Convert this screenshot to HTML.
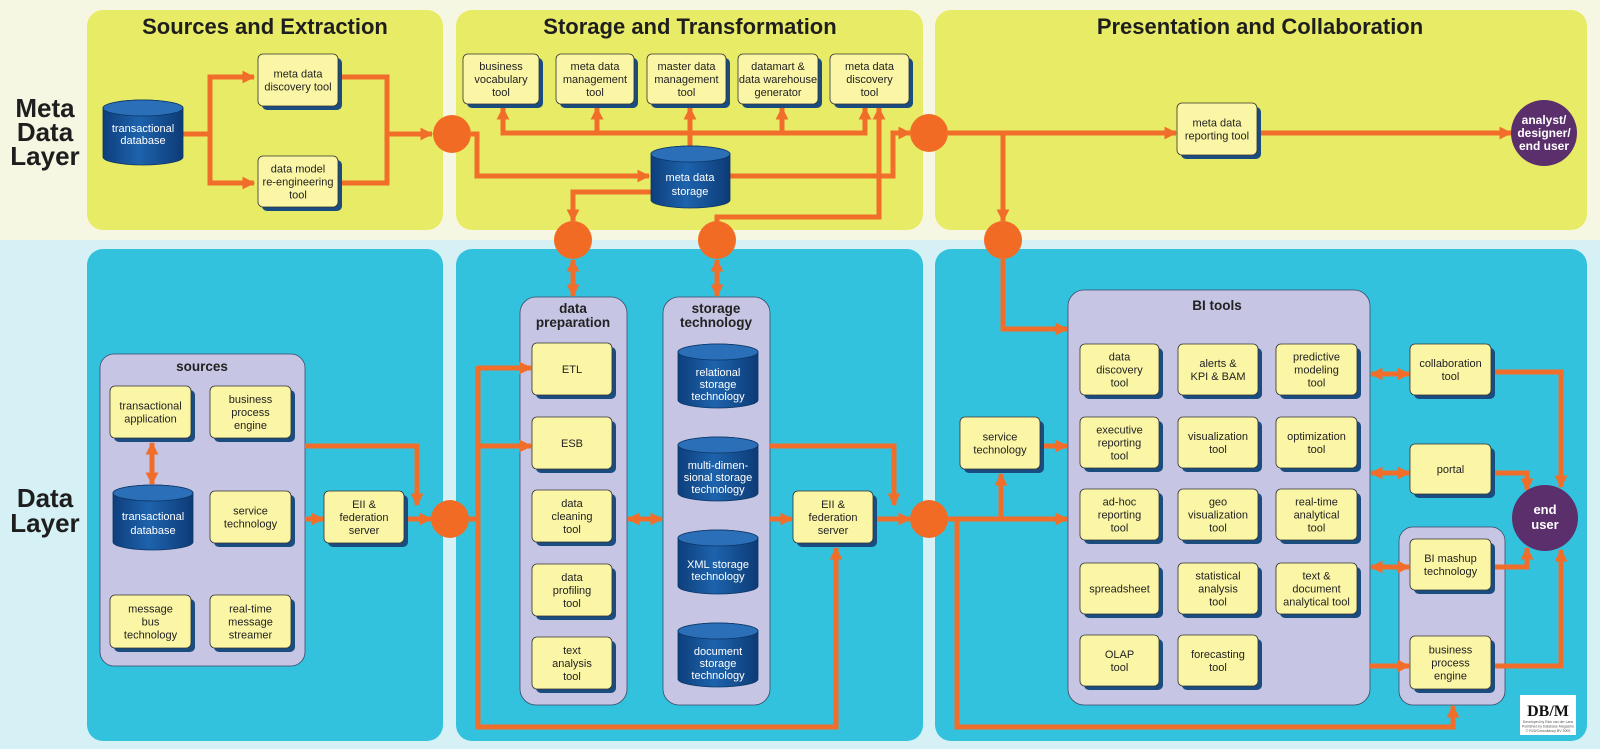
<!DOCTYPE html>
<html><head><meta charset="utf-8"><style>
html,body{margin:0;padding:0;width:1600px;height:749px;overflow:hidden;background:#d5f1f5}
svg{display:block}
text{font-family:"Liberation Sans",sans-serif;fill:#222}
.t{font-size:11px;text-anchor:middle}
.w{font-size:11px;text-anchor:middle;fill:#fff}
.h{font-size:22px;font-weight:bold;text-anchor:middle;fill:#1e1e1e}
.l{font-size:26px;font-weight:bold;text-anchor:middle;fill:#1e1e1e}
.p{font-size:13.5px;font-weight:bold;text-anchor:middle}
.o{fill:none;stroke:#f06e2a;stroke-width:5}
.b{fill:#fbf6a6;stroke:#333;stroke-width:.8}
.s{fill:#1b4c80}
</style></head><body>
<svg width="1600" height="749" viewBox="0 0 1600 749" xmlns="http://www.w3.org/2000/svg">
<defs>
<marker id="a" viewBox="0 0 10 10" refX="9" refY="5" markerWidth="13" markerHeight="13" markerUnits="userSpaceOnUse" orient="auto-start-reverse"><path d="M0,0 L10,5 L0,10z" fill="#f06e2a"/></marker>
<linearGradient id="g" x1="0" x2="1" y1="0" y2="0"><stop offset="0" stop-color="#0e3f7c"/><stop offset=".45" stop-color="#1d63ad"/><stop offset="1" stop-color="#0d3b76"/></linearGradient>
</defs>
<rect x="0" y="0" width="1600" height="240" fill="#f6f7e2"/>
<rect x="0" y="240" width="1600" height="509" fill="#d5f1f5"/>
<rect x="87" y="10" width="356" height="220" rx="16" fill="#e8eb66"/>
<rect x="456" y="10" width="467" height="220" rx="16" fill="#e8eb66"/>
<rect x="935" y="10" width="652" height="220" rx="16" fill="#e8eb66"/>
<rect x="87" y="249" width="356" height="492" rx="16" fill="#33c2dd"/>
<rect x="456" y="249" width="467" height="492" rx="16" fill="#33c2dd"/>
<rect x="935" y="249" width="652" height="492" rx="16" fill="#33c2dd"/>
<text class="h" x="265" y="34">Sources and Extraction</text>
<text class="h" x="690" y="34">Storage and Transformation</text>
<text class="h" x="1260" y="34">Presentation and Collaboration</text>
<text class="l" x="45" y="117">Meta</text><text class="l" x="45" y="141">Data</text><text class="l" x="45" y="165">Layer</text>
<text class="l" x="45" y="507">Data</text><text class="l" x="45" y="532">Layer</text>

<rect x="100" y="354" width="205" height="312" rx="14" fill="#c6c5e4" stroke="#3a4a6a" stroke-width=".8"/>
<text class="p" x="202" y="371">sources</text>
<rect x="520" y="297" width="107" height="408" rx="16" fill="#c6c5e4" stroke="#3a4a6a" stroke-width=".8"/>
<text class="p" x="573" y="313">data</text><text class="p" x="573" y="327">preparation</text>
<rect x="663" y="297" width="107" height="408" rx="16" fill="#c6c5e4" stroke="#3a4a6a" stroke-width=".8"/>
<text class="p" x="716" y="313">storage</text><text class="p" x="716" y="327">technology</text>
<rect x="1068" y="290" width="302" height="415" rx="16" fill="#c6c5e4" stroke="#3a4a6a" stroke-width=".8"/>
<text class="p" x="1217" y="310">BI tools</text>
<rect x="1399" y="527" width="106" height="178" rx="14" fill="#c6c5e4" stroke="#3a4a6a" stroke-width=".8"/>

<g class="o">
<path d="M183,134 H210"/>
<path d="M254,77 H210 V183 H254" marker-start="url(#a)" marker-end="url(#a)"/>
<path d="M338,77 H387 V183 H338"/>
<path d="M387,134 H432" marker-end="url(#a)"/>
<path d="M471,134 H477 V176 H649" marker-end="url(#a)"/>
<path d="M503,108 V133 H865 V108" marker-start="url(#a)" marker-end="url(#a)"/>
<path d="M597,133 V108" marker-end="url(#a)"/>
<path d="M690,146 V108" marker-end="url(#a)"/>
<path d="M782,133 V108" marker-end="url(#a)"/>
<path d="M730,176 H893 V133 H910" marker-end="url(#a)"/>
<path d="M651,192 H573 V221" marker-end="url(#a)"/>
<path d="M879,108 V217 H717 V225" marker-start="url(#a)"/>
<path d="M573,260 V296" marker-start="url(#a)" marker-end="url(#a)"/>
<path d="M717,260 V296" marker-start="url(#a)" marker-end="url(#a)"/>
<path d="M948,133 H1176" marker-end="url(#a)"/>
<path d="M1258,133 H1511" marker-end="url(#a)"/>
<path d="M1003,133 V221" marker-end="url(#a)"/>
<path d="M1003,259 V329 H1067" marker-end="url(#a)"/>

<path d="M152,443 V484" marker-start="url(#a)" marker-end="url(#a)"/>
<path d="M305,446 H417 V505" marker-end="url(#a)"/>
<path d="M305,519 H323" marker-end="url(#a)"/>
<path d="M404,519 H431" marker-end="url(#a)"/>
<path d="M469,519 H478"/>
<path d="M478,366 V727 H836 V548" marker-end="url(#a)"/>
<path d="M478,368 H531" marker-end="url(#a)"/>
<path d="M478,446 H531" marker-end="url(#a)"/>
<path d="M628,519 H662" marker-start="url(#a)" marker-end="url(#a)"/>
<path d="M770,446 H894 V505" marker-end="url(#a)"/>
<path d="M770,519 H792" marker-end="url(#a)"/>
<path d="M873,519 H910" marker-end="url(#a)"/>
<path d="M948,519 H1067" marker-end="url(#a)"/>
<path d="M1001,519 V474" marker-end="url(#a)"/>
<path d="M1040,446 H1067" marker-end="url(#a)"/>
<path d="M957,519 V727 H1453 V706" marker-end="url(#a)"/>
<path d="M1371,374 H1409" marker-start="url(#a)" marker-end="url(#a)"/>
<path d="M1371,473 H1409" marker-start="url(#a)" marker-end="url(#a)"/>
<path d="M1371,567 H1409" marker-start="url(#a)" marker-end="url(#a)"/>
<path d="M1370,666 H1409" marker-end="url(#a)"/>
<path d="M1491,372 H1561 V487" marker-end="url(#a)"/>
<path d="M1491,473 H1527 V490" marker-end="url(#a)"/>
<path d="M1491,567 H1527 V548" marker-end="url(#a)"/>
<path d="M1491,666 H1561 V550" marker-end="url(#a)"/>
</g>
<g fill="#f26b24">
<circle cx="452" cy="134" r="19"/><circle cx="573" cy="240" r="19"/><circle cx="717" cy="240" r="19"/>
<circle cx="929" cy="133" r="19"/><circle cx="1003" cy="240" r="19"/>
<circle cx="450" cy="519" r="19"/><circle cx="929" cy="519" r="19"/>
</g>
<circle cx="1544" cy="133" r="33" fill="#5b2f6b"/>
<text style="font-size:12px;font-weight:bold;text-anchor:middle;fill:#fff" x="1544" y="124">analyst/<tspan x="1544" dy="13">designer/</tspan><tspan x="1544" dy="13">end user</tspan></text>
<circle cx="1545" cy="518" r="33" fill="#5b2f6b"/>
<text style="font-size:13px;font-weight:bold;text-anchor:middle;fill:#fff" x="1545" y="514">end<tspan x="1545" dy="15">user</tspan></text>

<g stroke="#0b3566" stroke-width=".8">
<path d="M103,108 A40,8 0 0 1 183,108 V157 A40,8 0 0 1 103,157Z" fill="url(#g)"/><ellipse cx="143" cy="108" rx="40" ry="8" fill="#2a6fb7"/>
<path d="M651,154 A39.5,8 0 0 1 730,154 V200 A39.5,8 0 0 1 651,200Z" fill="url(#g)"/><ellipse cx="690.5" cy="154" rx="39.5" ry="8" fill="#2a6fb7"/>
<path d="M113,493 A40,8 0 0 1 193,493 V542 A40,8 0 0 1 113,542Z" fill="url(#g)"/><ellipse cx="153" cy="493" rx="40" ry="8" fill="#2a6fb7"/>
<path d="M678,352 A40,8 0 0 1 758,352 V400 A40,8 0 0 1 678,400Z" fill="url(#g)"/><ellipse cx="718" cy="352" rx="40" ry="8" fill="#2a6fb7"/>
<path d="M678,445 A40,8 0 0 1 758,445 V493 A40,8 0 0 1 678,493Z" fill="url(#g)"/><ellipse cx="718" cy="445" rx="40" ry="8" fill="#2a6fb7"/>
<path d="M678,538 A40,8 0 0 1 758,538 V586 A40,8 0 0 1 678,586Z" fill="url(#g)"/><ellipse cx="718" cy="538" rx="40" ry="8" fill="#2a6fb7"/>
<path d="M678,631 A40,8 0 0 1 758,631 V679 A40,8 0 0 1 678,679Z" fill="url(#g)"/><ellipse cx="718" cy="631" rx="40" ry="8" fill="#2a6fb7"/>
</g>
<text class="w" x="143" y="132">transactional<tspan x="143" dy="12">database</tspan></text>
<text class="w" x="690" y="181">meta data<tspan x="690" dy="14">storage</tspan></text>
<text class="w" x="153" y="520">transactional<tspan x="153" dy="14">database</tspan></text>
<text class="w" x="718" y="376">relational<tspan x="718" dy="12">storage</tspan><tspan x="718" dy="12">technology</tspan></text>
<text class="w" x="718" y="469">multi-dimen-<tspan x="718" dy="12">sional storage</tspan><tspan x="718" dy="12">technology</tspan></text>
<text class="w" x="718" y="568">XML storage<tspan x="718" dy="12">technology</tspan></text>
<text class="w" x="718" y="655">document<tspan x="718" dy="12">storage</tspan><tspan x="718" dy="12">technology</tspan></text>

<g>
<rect class="s" x="262" y="58" width="80" height="52" rx="5"/><rect class="b" x="258" y="54" width="80" height="52" rx="5"/>
<rect class="s" x="262" y="160" width="80" height="51" rx="5"/><rect class="b" x="258" y="156" width="80" height="51" rx="5"/>
<rect class="s" x="467" y="58" width="76" height="50" rx="5"/><rect class="b" x="463" y="54" width="76" height="50" rx="5"/>
<rect class="s" x="560" y="58" width="78" height="50" rx="5"/><rect class="b" x="556" y="54" width="78" height="50" rx="5"/>
<rect class="s" x="651" y="58" width="79" height="50" rx="5"/><rect class="b" x="647" y="54" width="79" height="50" rx="5"/>
<rect class="s" x="742" y="58" width="80" height="50" rx="5"/><rect class="b" x="738" y="54" width="80" height="50" rx="5"/>
<rect class="s" x="834" y="58" width="79" height="50" rx="5"/><rect class="b" x="830" y="54" width="79" height="50" rx="5"/>
<rect class="s" x="1181" y="107" width="80" height="52" rx="5"/><rect class="b" x="1177" y="103" width="80" height="52" rx="5"/>

<rect class="s" x="114" y="390" width="81" height="52" rx="5"/><rect class="b" x="110" y="386" width="81" height="52" rx="5"/>
<rect class="s" x="214" y="390" width="81" height="52" rx="5"/><rect class="b" x="210" y="386" width="81" height="52" rx="5"/>
<rect class="s" x="214" y="495" width="81" height="52" rx="5"/><rect class="b" x="210" y="491" width="81" height="52" rx="5"/>
<rect class="s" x="114" y="599" width="81" height="53" rx="5"/><rect class="b" x="110" y="595" width="81" height="53" rx="5"/>
<rect class="s" x="214" y="599" width="81" height="53" rx="5"/><rect class="b" x="210" y="595" width="81" height="53" rx="5"/>
<rect class="s" x="328" y="495" width="80" height="52" rx="5"/><rect class="b" x="324" y="491" width="80" height="52" rx="5"/>

<rect class="s" x="536" y="347" width="80" height="52" rx="5"/><rect class="b" x="532" y="343" width="80" height="52" rx="5"/>
<rect class="s" x="536" y="421" width="80" height="52" rx="5"/><rect class="b" x="532" y="417" width="80" height="52" rx="5"/>
<rect class="s" x="536" y="494" width="80" height="52" rx="5"/><rect class="b" x="532" y="490" width="80" height="52" rx="5"/>
<rect class="s" x="536" y="568" width="80" height="52" rx="5"/><rect class="b" x="532" y="564" width="80" height="52" rx="5"/>
<rect class="s" x="536" y="641" width="80" height="52" rx="5"/><rect class="b" x="532" y="637" width="80" height="52" rx="5"/>
<rect class="s" x="797" y="495" width="80" height="52" rx="5"/><rect class="b" x="793" y="491" width="80" height="52" rx="5"/>

<rect class="s" x="964" y="421" width="80" height="52" rx="5"/><rect class="b" x="960" y="417" width="80" height="52" rx="5"/>

<rect class="s" x="1084" y="348" width="79" height="51" rx="5"/><rect class="b" x="1080" y="344" width="79" height="51" rx="5"/>
<rect class="s" x="1182" y="348" width="80" height="51" rx="5"/><rect class="b" x="1178" y="344" width="80" height="51" rx="5"/>
<rect class="s" x="1280" y="348" width="81" height="51" rx="5"/><rect class="b" x="1276" y="344" width="81" height="51" rx="5"/>
<rect class="s" x="1084" y="421" width="79" height="51" rx="5"/><rect class="b" x="1080" y="417" width="79" height="51" rx="5"/>
<rect class="s" x="1182" y="421" width="80" height="51" rx="5"/><rect class="b" x="1178" y="417" width="80" height="51" rx="5"/>
<rect class="s" x="1280" y="421" width="81" height="51" rx="5"/><rect class="b" x="1276" y="417" width="81" height="51" rx="5"/>
<rect class="s" x="1084" y="493" width="79" height="51" rx="5"/><rect class="b" x="1080" y="489" width="79" height="51" rx="5"/>
<rect class="s" x="1182" y="493" width="80" height="51" rx="5"/><rect class="b" x="1178" y="489" width="80" height="51" rx="5"/>
<rect class="s" x="1280" y="493" width="81" height="51" rx="5"/><rect class="b" x="1276" y="489" width="81" height="51" rx="5"/>
<rect class="s" x="1084" y="567" width="79" height="51" rx="5"/><rect class="b" x="1080" y="563" width="79" height="51" rx="5"/>
<rect class="s" x="1182" y="567" width="80" height="51" rx="5"/><rect class="b" x="1178" y="563" width="80" height="51" rx="5"/>
<rect class="s" x="1280" y="567" width="81" height="51" rx="5"/><rect class="b" x="1276" y="563" width="81" height="51" rx="5"/>
<rect class="s" x="1084" y="639" width="79" height="51" rx="5"/><rect class="b" x="1080" y="635" width="79" height="51" rx="5"/>
<rect class="s" x="1182" y="639" width="80" height="51" rx="5"/><rect class="b" x="1178" y="635" width="80" height="51" rx="5"/>

<rect class="s" x="1414" y="348" width="81" height="51" rx="5"/><rect class="b" x="1410" y="344" width="81" height="51" rx="5"/>
<rect class="s" x="1414" y="448" width="81" height="50" rx="5"/><rect class="b" x="1410" y="444" width="81" height="50" rx="5"/>
<rect class="s" x="1414" y="543" width="81" height="51" rx="5"/><rect class="b" x="1410" y="539" width="81" height="51" rx="5"/>
<rect class="s" x="1414" y="640" width="81" height="53" rx="5"/><rect class="b" x="1410" y="636" width="81" height="53" rx="5"/>
</g>

<text class="t" x="298" y="77.5">meta data<tspan x="298" dy="13">discovery tool</tspan></text>
<text class="t" x="298" y="172.5">data model<tspan x="298" dy="13">re-engineering</tspan><tspan x="298" dy="13">tool</tspan></text>
<text class="t" x="501" y="70">business<tspan x="501" dy="13">vocabulary</tspan><tspan x="501" dy="13">tool</tspan></text>
<text class="t" x="595" y="70">meta data<tspan x="595" dy="13">management</tspan><tspan x="595" dy="13">tool</tspan></text>
<text class="t" x="686.5" y="70">master data<tspan x="686.5" dy="13">management</tspan><tspan x="686.5" dy="13">tool</tspan></text>
<text class="t" x="778" y="70">datamart &amp;<tspan x="778" dy="13">data warehouse</tspan><tspan x="778" dy="13">generator</tspan></text>
<text class="t" x="869.5" y="70">meta data<tspan x="869.5" dy="13">discovery</tspan><tspan x="869.5" dy="13">tool</tspan></text>
<text class="t" x="1217" y="126.5">meta data<tspan x="1217" dy="13">reporting tool</tspan></text>

<text class="t" x="150.5" y="409.5">transactional<tspan x="150.5" dy="13">application</tspan></text>
<text class="t" x="250.5" y="403">business<tspan x="250.5" dy="13">process</tspan><tspan x="250.5" dy="13">engine</tspan></text>
<text class="t" x="250.5" y="514.5">service<tspan x="250.5" dy="13">technology</tspan></text>
<text class="t" x="150.5" y="612.5">message<tspan x="150.5" dy="13">bus</tspan><tspan x="150.5" dy="13">technology</tspan></text>
<text class="t" x="250.5" y="612.5">real-time<tspan x="250.5" dy="13">message</tspan><tspan x="250.5" dy="13">streamer</tspan></text>
<text class="t" x="364" y="508">EII &amp;<tspan x="364" dy="13">federation</tspan><tspan x="364" dy="13">server</tspan></text>

<text class="t" x="572" y="373">ETL</text>
<text class="t" x="572" y="447">ESB</text>
<text class="t" x="572" y="507">data<tspan x="572" dy="13">cleaning</tspan><tspan x="572" dy="13">tool</tspan></text>
<text class="t" x="572" y="581">data<tspan x="572" dy="13">profiling</tspan><tspan x="572" dy="13">tool</tspan></text>
<text class="t" x="572" y="654">text<tspan x="572" dy="13">analysis</tspan><tspan x="572" dy="13">tool</tspan></text>
<text class="t" x="833" y="508">EII &amp;<tspan x="833" dy="13">federation</tspan><tspan x="833" dy="13">server</tspan></text>

<text class="t" x="1000" y="440.5">service<tspan x="1000" dy="13">technology</tspan></text>

<text class="t" x="1119.5" y="360.5">data<tspan x="1119.5" dy="13">discovery</tspan><tspan x="1119.5" dy="13">tool</tspan></text>
<text class="t" x="1218" y="367">alerts &amp;<tspan x="1218" dy="13">KPI &amp; BAM</tspan></text>
<text class="t" x="1316.5" y="360.5">predictive<tspan x="1316.5" dy="13">modeling</tspan><tspan x="1316.5" dy="13">tool</tspan></text>
<text class="t" x="1119.5" y="433.5">executive<tspan x="1119.5" dy="13">reporting</tspan><tspan x="1119.5" dy="13">tool</tspan></text>
<text class="t" x="1218" y="440">visualization<tspan x="1218" dy="13">tool</tspan></text>
<text class="t" x="1316.5" y="440">optimization<tspan x="1316.5" dy="13">tool</tspan></text>
<text class="t" x="1119.5" y="505.5">ad-hoc<tspan x="1119.5" dy="13">reporting</tspan><tspan x="1119.5" dy="13">tool</tspan></text>
<text class="t" x="1218" y="505.5">geo<tspan x="1218" dy="13">visualization</tspan><tspan x="1218" dy="13">tool</tspan></text>
<text class="t" x="1316.5" y="505.5">real-time<tspan x="1316.5" dy="13">analytical</tspan><tspan x="1316.5" dy="13">tool</tspan></text>
<text class="t" x="1119.5" y="592.5">spreadsheet</text>
<text class="t" x="1218" y="579.5">statistical<tspan x="1218" dy="13">analysis</tspan><tspan x="1218" dy="13">tool</tspan></text>
<text class="t" x="1316.5" y="579.5">text &amp;<tspan x="1316.5" dy="13">document</tspan><tspan x="1316.5" dy="13">analytical tool</tspan></text>
<text class="t" x="1119.5" y="658">OLAP<tspan x="1119.5" dy="13">tool</tspan></text>
<text class="t" x="1218" y="658">forecasting<tspan x="1218" dy="13">tool</tspan></text>

<text class="t" x="1450.5" y="367">collaboration<tspan x="1450.5" dy="13">tool</tspan></text>
<text class="t" x="1450.5" y="473">portal</text>
<text class="t" x="1450.5" y="562">BI mashup<tspan x="1450.5" dy="13">technology</tspan></text>
<text class="t" x="1450.5" y="653.5">business<tspan x="1450.5" dy="13">process</tspan><tspan x="1450.5" dy="13">engine</tspan></text>

<rect x="1520" y="695" width="56" height="40" fill="#fff"/>
<text x="1548" y="716" style="font-family:'Liberation Serif',serif;font-size:16px;font-weight:bold;text-anchor:middle;fill:#111">DB/M</text>
<text x="1548" y="723" style="font-size:3.5px;text-anchor:middle;fill:#555">Developed by Rick van der Lans<tspan x="1548" dy="4.5">Published by Database Magazine</tspan><tspan x="1548" dy="4.5">© R20/Consultancy BV 2009</tspan></text>
</svg>
</body></html>
